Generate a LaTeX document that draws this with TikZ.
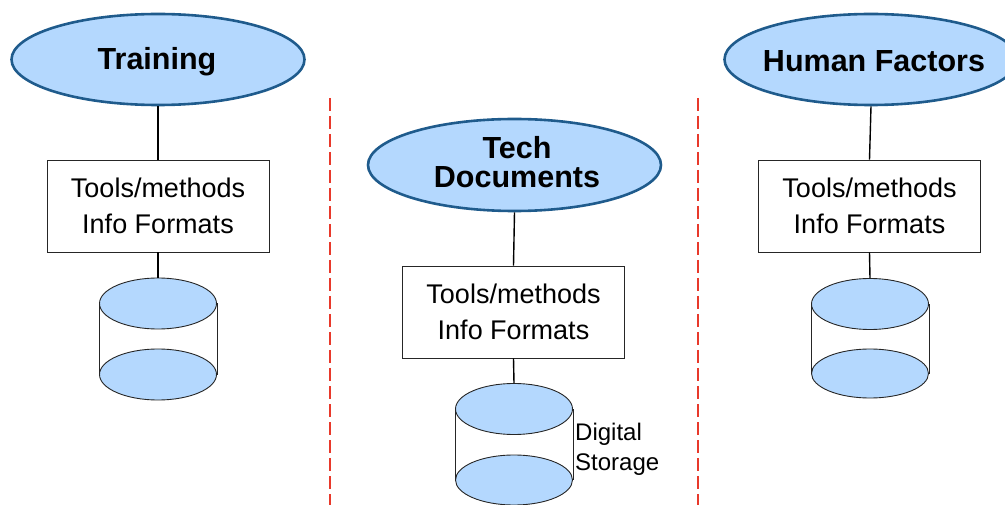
\documentclass[tikz,border=0pt]{standalone}
\usepackage{fontspec}
\setmainfont{Liberation Sans}
\usetikzlibrary{shapes.geometric}
\definecolor{ellfill}{HTML}{B4D8FE}
\definecolor{elldraw}{HTML}{1F5B8C}
\definecolor{dashred}{HTML}{E8392B}
\begin{document}
\begin{tikzpicture}[x=1pt,y=-1pt,
 topic/.style={ellipse, draw=elldraw, line width=2.6pt, fill=ellfill, minimum width=293pt, minimum height=91pt, inner sep=0pt},
 ttext/.style={font=\fontsize{30.5}{29}\selectfont\bfseries, align=center, inner sep=0pt},
 infobox/.style={draw=black!85, line width=0.9pt, fill=white, minimum width=222pt, minimum height=92pt, align=center, font=\fontsize{27}{36}\selectfont},
 disk/.style={ellipse, draw=black!85, line width=0.9pt, fill=ellfill, minimum width=117pt, minimum height=51pt, inner sep=0pt},
 link/.style={draw=black, line width=1.4pt},
 side/.style={draw=black!85, line width=0.9pt},
 sep/.style={draw=dashred, line width=2pt, dash pattern=on 13pt off 5pt}]
\useasboundingbox (0,0) rectangle (1005,505);
\clip (0,0) rectangle (1005,505);

% separators
\coordinate (s1t) at (330,98);
\coordinate (s1b) at (330,506);
\coordinate (s2t) at (698,98);
\coordinate (s2b) at (698,506);
\draw[sep] (s1t) -- (s1b);
\draw[sep] (s2t) -- (s2b);

% Training column
\node[topic] (tr) at (158,59.5) {};
\node[ttext] (trl) at (157,62) {Training};
\node[infobox] (trb) at (158,206) {Tools/methods\\Info Formats};
\node[disk] (trd2) at (158,374.5) {};
\node[disk] (trd) at (158,303.5) {};
\draw[side] (trd.west) -- (trd2.west) (trd.east) -- (trd2.east);
\draw[link] (tr.south) -- (trb.north);
\draw[link] (trb.south) -- (trd.north);

% Tech Documents column
\node[topic, minimum height=92pt] (td) at (514.5,165) {};
\node[ttext] (tdl) at (517,162) {Tech\\Documents};
\node[infobox] (tdb) at (513.5,312) {Tools/methods\\Info Formats};
\node[disk, minimum height=50pt] (tdd2) at (514,480) {};
\node[disk] (tdd) at (514,409) {};
\draw[side] (tdd.west) -- (tdd2.west) (tdd.east) -- (tdd2.east);
\draw[link] (td.south) -- (tdb.north);
\draw[link] (tdb.south) -- (tdd.north);
\node[anchor=west, align=left, inner sep=0pt, font=\fontsize{24}{30}\selectfont] (dsl) at (575,449) {Digital\\Storage};

% Human Factors column
\node[topic] (hf) at (871,59.5) {};
\node[ttext] (hfl) at (874,61) {Human Factors};
\node[infobox] (hfb) at (869.5,206) {Tools/methods\\Info Formats};
\node[disk, minimum height=49pt] (hfd2) at (870,373.5) {};
\node[disk] (hfd) at (870,304) {};
\draw[side] (hfd.west) -- (hfd2.west) (hfd.east) -- (hfd2.east);
\draw[link] (hf.south) -- (hfb.north);
\draw[link] (hfb.south) -- (hfd.north);
\end{tikzpicture}
\end{document}
